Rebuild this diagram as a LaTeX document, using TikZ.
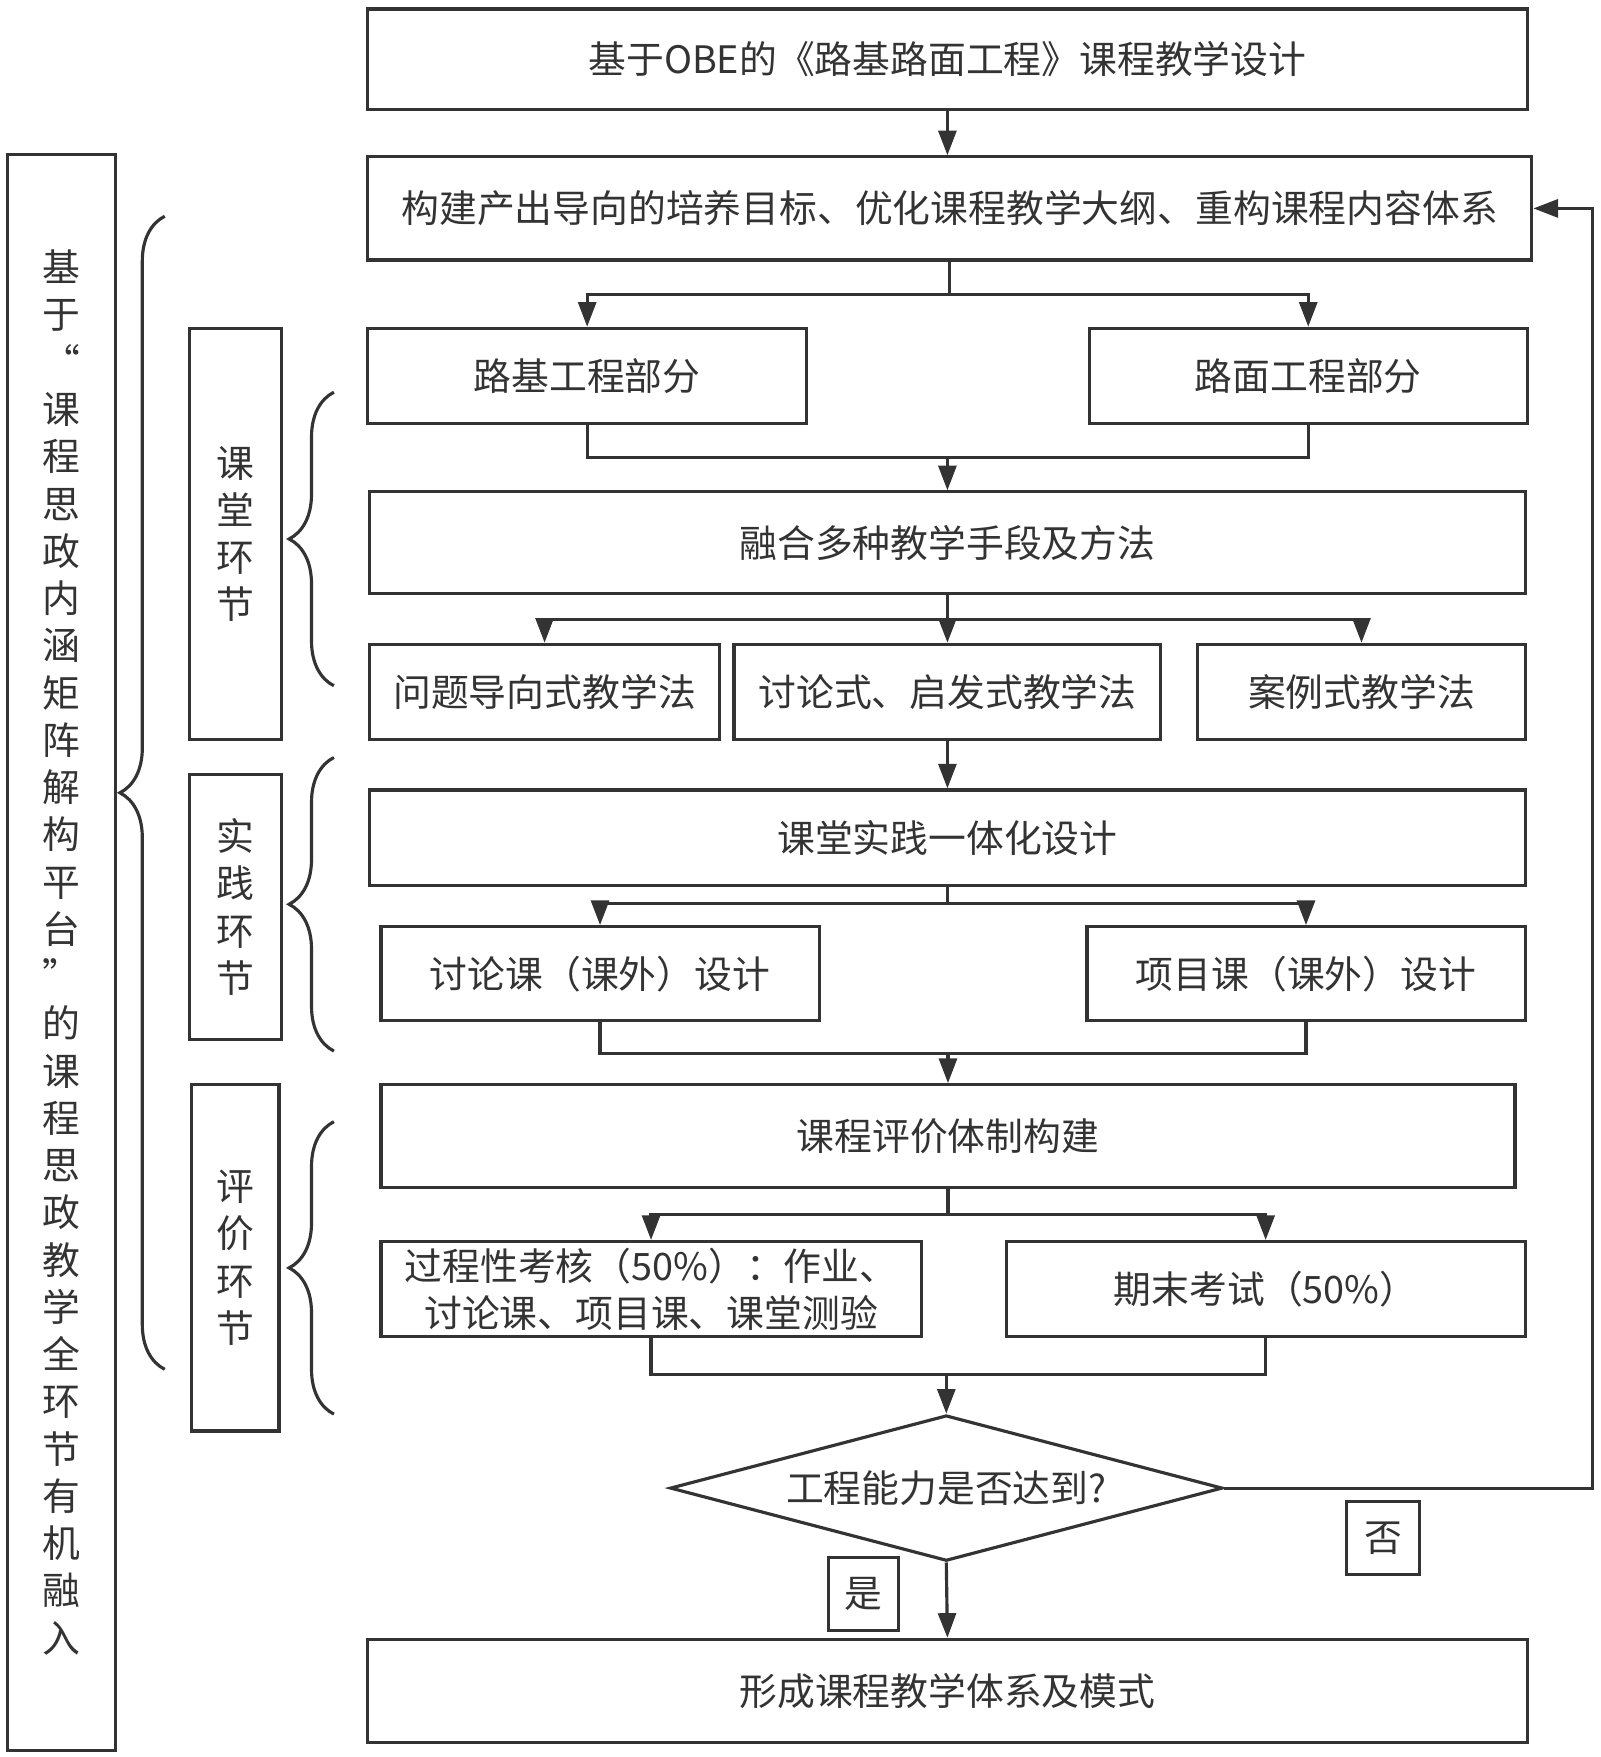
\documentclass[tikz,border=0pt]{standalone}
\usepackage{fontspec}
\setmainfont{Noto Sans CJK SC}
\usepackage{tikz}
\usetikzlibrary{arrows.meta,shapes.geometric,decorations.pathreplacing}
\definecolor{darkline}{rgb}{0.2,0.2,0.2}

\begin{document}
\begin{tikzpicture}[
  line width=0.8pt, color=darkline,
  font=\fontsize{9.6pt}{12pt}\selectfont,
  box/.style={draw, inner sep=0pt, align=center},
  arr/.style={-{Triangle[length=2.2mm,width=1.6mm]}},
  brc/.style={decorate, decoration={brace, amplitude=4mm}}
]
\useasboundingbox (0,0) rectangle (14.28,-15.68);

\node[box, minimum width=0.96cm, minimum height=14.24cm] (plat) at (0.55,-8.50)
  {基\\于\\“\\课\\程\\思\\政\\内\\涵\\矩\\阵\\解\\构\\平\\台\\”\\的\\课\\程\\思\\政\\教\\学\\全\\环\\节\\有\\机\\融\\入};
\draw[brc] (1.47,-12.22) -- (1.47,-1.93);

\node[box, minimum width=0.82cm, minimum height=3.67cm] (ketang) at (2.10,-4.765) {课\\堂\\环\\节};
\node[box, minimum width=0.82cm, minimum height=2.37cm] (shijian) at (2.10,-8.095) {实\\践\\环\\节};
\node[box, minimum width=0.78cm, minimum height=3.09cm] (pingjia) at (2.10,-11.225) {评\\价\\环\\节};
\draw[brc] (2.98,-6.12) -- (2.98,-3.50);
\draw[brc] (2.98,-9.38) -- (2.98,-6.76);
\draw[brc] (2.98,-12.62) -- (2.98,-10.01);

\node[box, minimum width=10.35cm, minimum height=0.90cm] (title) at (8.455,-0.53) {基于OBE的《路基路面工程》课程教学设计};
\node[box, minimum width=10.39cm, minimum height=0.92cm] (goal) at (8.475,-1.86) {构建产出导向的培养目标、优化课程教学大纲、重构课程内容体系};
\node[box, minimum width=3.92cm, minimum height=0.85cm] (luji) at (5.24,-3.355) {路基工程部分};
\node[box, minimum width=3.91cm, minimum height=0.85cm] (lumian) at (11.675,-3.355) {路面工程部分};
\node[box, minimum width=10.31cm, minimum height=0.91cm] (ronghe) at (8.455,-4.845) {融合多种教学手段及方法};
\node[box, minimum width=3.12cm, minimum height=0.85cm] (wenti) at (4.86,-6.175) {问题导向式教学法};
\node[box, minimum width=3.81cm, minimum height=0.85cm] (taolun) at (8.455,-6.175) {讨论式、启发式教学法};
\node[box, minimum width=2.92cm, minimum height=0.85cm] (anli) at (12.15,-6.175) {案例式教学法};
\node[box, minimum width=10.31cm, minimum height=0.85cm] (yiti) at (8.455,-7.475) {课堂实践一体化设计};
\node[box, minimum width=3.91cm, minimum height=0.84cm] (tlk) at (5.355,-8.69) {讨论课（课外）设计};
\node[box, minimum width=3.91cm, minimum height=0.84cm] (xmk) at (11.655,-8.69) {项目课（课外）设计};
\node[box, minimum width=10.12cm, minimum height=0.92cm] (tizhi) at (8.46,-10.14) {课程评价体制构建};
\node[box, minimum width=4.82cm, minimum height=0.85cm] (guocheng) at (5.81,-11.505) {过程性考核（50\%）：作业、\\讨论课、项目课、课堂测验};
\node[box, minimum width=4.63cm, minimum height=0.85cm] (qimo) at (11.295,-11.505) {期末考试（50\%）};
\node[box, diamond, shape aspect=3.8, minimum width=4.93cm, minimum height=1.30cm] (dada) at (8.445,-13.28) {工程能力是否达到?};
\node[box, minimum width=0.63cm, minimum height=0.65cm] (shi) at (7.705,-14.225) {是};
\node[box, minimum width=0.65cm, minimum height=0.65cm] (fou) at (12.345,-13.725) {否};
\node[box, minimum width=10.35cm, minimum height=0.92cm] (xingcheng) at (8.455,-15.09) {形成课程教学体系及模式};

\draw[arr] (title.south) -- (title.south |- goal.north);

\coordinate (j1) at (goal.south |- 0,-2.63);
\draw (goal.south) -- (j1);
\draw[arr] (j1) -| (luji.north);
\draw[arr] (j1) -| (lumian.north);

\coordinate (j2) at (ronghe.north |- 0,-4.08);
\draw (luji.south) |- (j2);
\draw (lumian.south) |- (j2);
\draw[arr] (j2) -- (ronghe.north);

\coordinate (j3) at (ronghe.south |- 0,-5.53);
\draw (ronghe.south) -- (j3);
\draw[arr] (j3) -| (wenti.north);
\draw[arr] (j3) -- (taolun.north);
\draw[arr] (j3) -| (anli.north);

\draw[arr] (taolun.south) -- (yiti.north);

\coordinate (j4) at (yiti.south |- 0,-8.06);
\draw (yiti.south) -- (j4);
\draw[arr] (j4) -| (tlk.north);
\draw[arr] (j4) -| (xmk.north);

\coordinate (j5) at (tizhi.north |- 0,-9.40);
\draw (tlk.south) |- (j5);
\draw (xmk.south) |- (j5);
\draw[arr] (j5) -- (tizhi.north);

\coordinate (j6) at (tizhi.south |- 0,-10.84);
\draw (tizhi.south) -- (j6);
\draw[arr] (j6) -| (guocheng.north);
\draw[arr] (j6) -| (qimo.north);

\coordinate (j7) at (dada.north |- 0,-12.27);
\draw (guocheng.south) |- (j7);
\draw (qimo.south) |- (j7);
\draw[arr] (j7) -- (dada.north);

\draw[arr] (dada.south) -- (xingcheng.north);

\coordinate (back) at (14.21,-1.86);
\draw[arr] (dada.east) -| (back) -- (goal.east);
\end{tikzpicture}
\end{document}
